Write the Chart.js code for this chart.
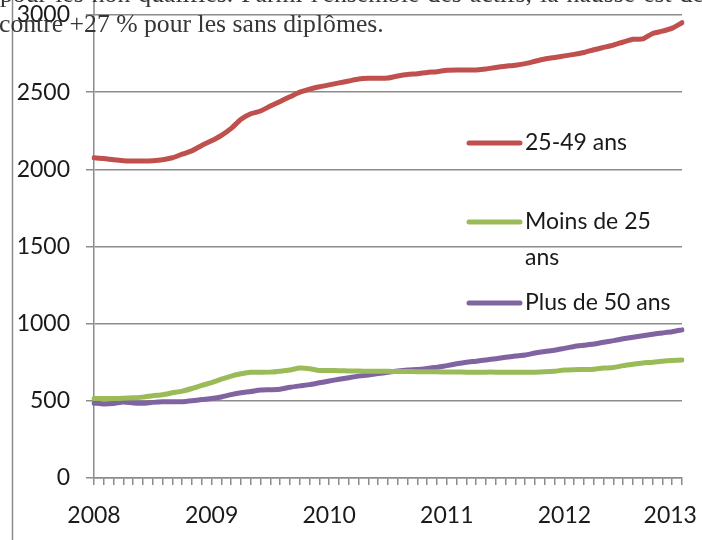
<!DOCTYPE html>
<html>
<head>
<meta charset="utf-8">
<script src="https://cdn.jsdelivr.net/npm/chart.js@4"></script>
<style>
  html, body { margin: 0; padding: 0; background: #fff; }
  #wrap { position: relative; width: 702px; height: 540px; overflow: hidden; }
  #chart { position: absolute; left: 0; top: 0; }
  .para { position: absolute; left: 0; font-family: "Liberation Serif", "Times New Roman", serif; font-size: 25.7px; line-height: 28px; color: #363636; }
  #line1 { top: -20px; width: 704px; text-align: justify; text-align-last: justify; }
  #line2 { top: 10px; left: -1px; white-space: nowrap; }
</style>
</head>
<body>
<div id="wrap">
  <canvas id="chart" width="702" height="540"></canvas>
  <div class="para" id="line1">pour les non qualifiés. Parmi l'ensemble des actifs, la hausse est de</div>
  <div class="para" id="line2">contre +27 % pour les sans diplômes.</div>
</div>
<script>
// monthly values, Jan 2008 .. Jan 2013
const years = ['2008', '2009', '2010', '2011', '2012', '2013'];

const age25to49 = [2075,2070,2062,2056,2054,2054,2056,2062,2075,2098,
                   2120,2155,2185,2220,2265,2325,2360,2378,2410,2440,
                   2470,2500,2520,2535,2547,2560,2572,2585,2590,2590,
                   2592,2605,2615,2620,2628,2633,2642,2644,2643,2644,
                   2650,2660,2668,2675,2685,2700,2715,2725,2735,2745,
                   2757,2775,2790,2805,2825,2843,2845,2880,2895,2915,2950];

const under25   = [515,515,515,517,520,524,533,540,552,563,
                   580,600,618,640,660,675,685,685,686,692,
                   700,712,708,697,697,695,694,693,692,692,
                   691,690,690,689,688,688,687,687,686,686,
                   686,686,685,685,685,686,688,692,700,702,
                   703,705,712,716,728,737,745,750,757,762,765];

const over50    = [485,480,483,492,486,484,490,494,494,494,
                   500,508,515,525,540,552,560,570,572,575,
                   588,597,605,617,628,640,650,660,668,677,
                   685,694,700,703,710,718,728,740,750,757,
                   765,773,782,790,797,810,820,828,840,852,
                   860,868,880,890,902,912,922,932,940,948,960];

const seriesNames  = ['25-49 ans', 'Moins de 25 ans', 'Plus de 50 ans'];
const legendLines  = [['25-49 ans'], ['Moins de 25', 'ans'], ['Plus de 50 ans']];
const seriesColors = ['#C0504D', '#9BBB59', '#8064A2'];

const months = [];
for (let i = 0; i < age25to49.length; i++) {
  months.push(years[Math.floor(i / 12)] + '-' + String(i % 12 + 1).padStart(2, '0'));
}

const GRID   = '#8c8c8c';
const TEXT   = '#1a1a1a';
const FONT   = { family: 'Lato, "Open Sans", sans-serif', size: 23 };

// page border, y-axis extension and the legend drawn inside the plot
const decor = {
  id: 'decor',
  afterDraw(chart) {
    const { ctx, chartArea } = chart;
    ctx.save();
    ctx.strokeStyle = GRID;
    ctx.lineWidth = 1.5;
    ctx.beginPath();
    ctx.moveTo(12.5, 0); ctx.lineTo(12.5, 540);
    ctx.moveTo(chartArea.left, 0); ctx.lineTo(chartArea.left, chartArea.top);
    ctx.stroke();

    const rows = [143, 222, 303];
    ctx.font = FONT.size + 'px ' + FONT.family;
    ctx.fillStyle = TEXT;
    ctx.textBaseline = 'middle';
    ctx.lineCap = 'round';
    chart.data.datasets.forEach((ds, i) => {
      const y = rows[i];
      ctx.strokeStyle = ds.borderColor;
      ctx.lineWidth = 5;
      ctx.beginPath();
      ctx.moveTo(469, y); ctx.lineTo(520, y);
      ctx.stroke();
      legendLines[i].forEach((t, k) => ctx.fillText(t, 525, y + k * 36));
    });
    ctx.restore();
  }
};

new Chart(document.getElementById('chart'), {
  type: 'line',
  data: {
    labels: months,
    datasets: [
      { label: seriesNames[0], data: age25to49, borderColor: seriesColors[0] },
      { label: seriesNames[1], data: under25,   borderColor: seriesColors[1] },
      { label: seriesNames[2], data: over50,    borderColor: seriesColors[2] },
    ],
  },
  options: {
    responsive: false,
    animation: false,
    layout: { padding: { top: 15, right: 20, left: 0, bottom: 0 } },
    plugins: { legend: { display: false }, tooltip: { enabled: false } },
    elements: {
      point: { radius: 0 },
      line: { borderWidth: 5, tension: 0.2, borderCapStyle: 'round', borderJoinStyle: 'round', fill: false },
    },
    scales: {
      x: {
        offset: false,
        grid: { drawOnChartArea: false, color: GRID, lineWidth: 1.5, tickLength: 7 },
        border: { color: GRID, width: 1.5 },
        ticks: {
          autoSkip: false, maxRotation: 0, padding: 17, color: TEXT, font: FONT,
          // last label is pulled inside the frame, as in the original
          callback: (v, i) => {
            if (i % 12 !== 0) return '';
            const y = years[i / 12];
            return i === months.length - 1 ? y + '    ' : y;
          },
        },
        afterFit(s) { s.height = 62; s.paddingLeft = 0; s.paddingRight = 0; },
      },
      y: {
        min: 0, max: 3000,
        ticks: { stepSize: 500, padding: 16, color: TEXT, font: FONT, callback: v => String(v) },
        grid: { color: GRID, lineWidth: 1.5, tickLength: 8 },
        border: { color: GRID, width: 1.5 },
        afterFit(s) { s.width = 94; s.paddingTop = 0; s.paddingBottom = 0; },
      },
    },
  },
  plugins: [decor],
});
</script>
</body>
</html>
